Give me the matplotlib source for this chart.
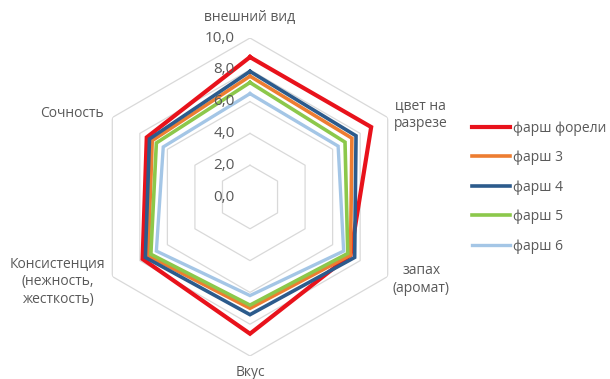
import numpy as np
import matplotlib
matplotlib.use("Agg")
import matplotlib.pyplot as plt

categories = ["внешний вид", "цвет на\nразрезе", "запах\n(аромат)", "Вкус",
              "Консистенция\n(нежность,\nжесткость)", "Сочность"]
series_names = ["фарш форели", "фарш 3", "фарш 4", "фарш 5", "фарш 6"]
v_forel = [8.8, 8.8, 7.3, 8.6, 7.8, 7.5]
v_3 = [7.6, 7.4, 7.3, 7.0, 7.4, 7.1]
v_4 = [7.9, 7.7, 7.6, 7.4, 7.6, 7.3]
v_5 = [7.2, 6.9, 7.1, 6.8, 7.2, 6.8]
v_6 = [6.5, 6.4, 6.8, 6.2, 6.8, 6.3]
ring_values = [0, 2, 4, 6, 8, 10]
ring_labels = ["0,0", "2,0", "4,0", "6,0", "8,0", "10,0"]

series = [v_forel, v_3, v_4, v_5, v_6]
colors = ["#E8121B", "#ED7D31", "#2C5B8C", "#8CC84B", "#A4C6E6"]
widths = [3.0, 2.6, 2.6, 2.6, 2.4]

plt.rcParams['font.family'] = ['Open Sans', 'DejaVu Sans']
txt_color = "#595959"
fs = 10

fig = plt.figure(figsize=(6.1, 3.79), dpi=100)
W, H = 610, 379
cx, cy, R = 250, 197, 159
ax = fig.add_axes([(cx - R) / W, 1 - (cy + R) / H, 2 * R / W, 2 * R / H], projection='polar')
ax.set_theta_offset(np.pi / 2)
ax.set_theta_direction(-1)
ax.set_ylim(0, 10)
ax.grid(False)
ax.spines['polar'].set_visible(False)
ax.set_xticks([])
ax.set_yticks([])
ax.patch.set_alpha(0)

n = len(categories)
theta = np.linspace(0, 2 * np.pi, n, endpoint=False)
theta_c = np.append(theta, theta[0])

grid_c = "#D9D9D9"
for rv in ring_values[1:]:
    ax.plot(theta_c, [rv] * (n + 1), color=grid_c, lw=0.9, zorder=1)

for vals, name, c, lw in zip(series, series_names, colors, widths):
    ax.plot(theta_c, vals + vals[:1], color=c, lw=lw, label=name, zorder=3,
            solid_joinstyle='miter')

for rv, lab in zip(ring_values, ring_labels):
    ax.annotate(lab, xy=(0, rv), xytext=(-15, 0), textcoords='offset pixels',
                ha='right', va='center', color=txt_color, fontsize=11)

offsets = [((0, 20), 'center', 'center'),
           ((6, 3), 'left', 'center'),
           ((5, -3), 'left', 'center'),
           ((0, -16), 'center', 'center'),
           ((-7, -5), 'right', 'center'),
           ((-9, 4), 'right', 'center')]
for t, lab, (off, ha, va) in zip(theta, categories, offsets):
    ax.annotate(lab, xy=(t, 10), xytext=off, textcoords='offset pixels',
                ha=ha, va=va, multialignment='center', color=txt_color,
                fontsize=fs, linespacing=1.25)

leg = fig.legend(loc='upper left', bbox_to_anchor=(466 / W, 1 - 115 / H),
                 frameon=False, fontsize=fs, handlelength=2.8, handletextpad=0.15,
                 labelspacing=1.05, borderaxespad=0)
for t in leg.get_texts():
    t.set_color(txt_color)

fig.savefig("out.png", dpi=100)
